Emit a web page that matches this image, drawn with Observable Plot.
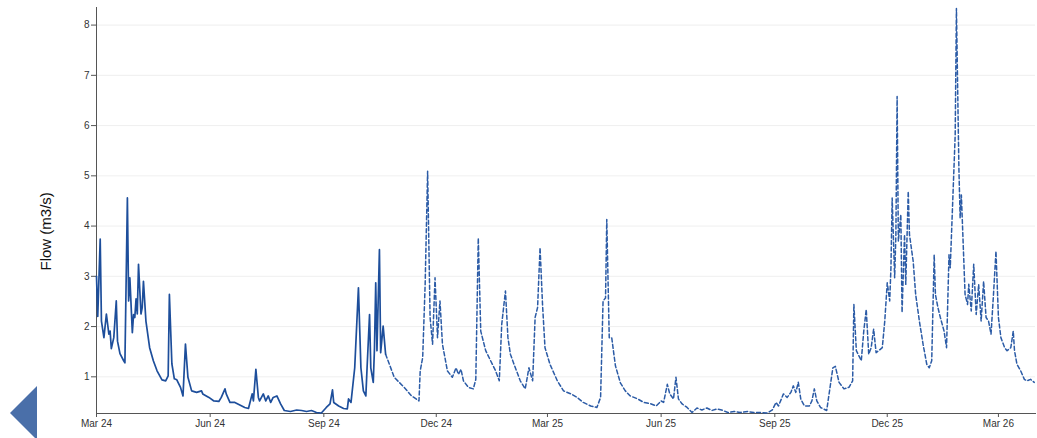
<!DOCTYPE html>
<html>
<head>
<meta charset="utf-8">
<script src="https://cdn.jsdelivr.net/npm/d3@7"></script>
<script src="https://cdn.jsdelivr.net/npm/@observablehq/plot@0.6"></script>
<style>
  html, body { margin: 0; padding: 0; background: #fff; }
  #wrap { position: relative; width: 1037px; height: 438px; overflow: hidden; }
  #nav { position: absolute; left: 0; top: 0; }
</style>
</head>
<body>
<div id="wrap"></div>
<script>
// ---- Observed flow (solid) ----
const obsDates = ["2024-03-01","2024-03-02","2024-03-04","2024-03-05","2024-03-07","2024-03-09","2024-03-11","2024-03-12","2024-03-13","2024-03-15","2024-03-17","2024-03-18","2024-03-20","2024-03-23","2024-03-24","2024-03-26","2024-03-27","2024-03-28","2024-03-30","2024-03-31","2024-04-01","2024-04-02","2024-04-03","2024-04-04","2024-04-06","2024-04-07","2024-04-08","2024-04-10","2024-04-13","2024-04-16","2024-04-19","2024-04-23","2024-04-26","2024-04-28","2024-04-29","2024-05-01","2024-05-03","2024-05-05","2024-05-08","2024-05-10","2024-05-12","2024-05-14","2024-05-17","2024-05-21","2024-05-25","2024-05-26","2024-05-31","2024-06-04","2024-06-08","2024-06-10","2024-06-13","2024-06-14","2024-06-17","2024-06-21","2024-06-25","2024-06-29","2024-07-02","2024-07-05","2024-07-06","2024-07-08","2024-07-10","2024-07-11","2024-07-14","2024-07-16","2024-07-18","2024-07-20","2024-07-22","2024-07-25","2024-07-28","2024-07-31","2024-08-05","2024-08-10","2024-08-14","2024-08-18","2024-08-22","2024-08-26","2024-08-30","2024-09-03","2024-09-06","2024-09-08","2024-09-09","2024-09-13","2024-09-17","2024-09-20","2024-09-21","2024-09-23","2024-09-26","2024-09-29","2024-10-01","2024-10-03","2024-10-05","2024-10-06","2024-10-08","2024-10-09","2024-10-11","2024-10-12","2024-10-13","2024-10-14","2024-10-16","2024-10-17","2024-10-19","2024-10-21"];
const obsFlow = [3.00,2.20,3.74,2.11,1.78,2.25,1.85,1.91,1.56,1.78,2.51,1.71,1.46,1.32,1.28,4.56,2.51,2.97,1.88,2.24,2.18,2.55,2.25,3.24,2.25,2.38,2.90,2.11,1.58,1.32,1.12,0.94,0.92,1.02,2.64,1.26,0.96,0.94,0.79,0.62,1.65,0.99,0.72,0.69,0.72,0.66,0.59,0.52,0.51,0.59,0.76,0.66,0.49,0.49,0.44,0.39,0.37,0.66,0.52,1.15,0.59,0.52,0.66,0.52,0.62,0.49,0.59,0.62,0.46,0.33,0.31,0.34,0.33,0.31,0.33,0.29,0.28,0.39,0.46,0.74,0.49,0.42,0.37,0.36,0.56,0.49,1.18,2.77,1.18,0.72,0.62,1.18,2.24,1.18,0.89,1.58,2.87,1.52,3.53,1.48,2.01,1.45];

// ---- Forecast flow (dashed) ----
const fcDates = ["2024-10-21","2024-10-28","2024-11-05","2024-11-11","2024-11-17","2024-11-18","2024-11-20","2024-11-22","2024-11-24","2024-11-26","2024-11-28","2024-11-30","2024-12-02","2024-12-04","2024-12-06","2024-12-10","2024-12-14","2024-12-17","2024-12-19","2024-12-21","2024-12-23","2024-12-27","2024-12-31","2025-01-02","2025-01-04","2025-01-06","2025-01-10","2025-01-14","2025-01-18","2025-01-21","2025-01-23","2025-01-26","2025-01-28","2025-01-30","2025-02-03","2025-02-07","2025-02-11","2025-02-14","2025-02-17","2025-02-19","2025-02-21","2025-02-23","2025-02-25","2025-02-27","2025-03-03","2025-03-09","2025-03-14","2025-03-20","2025-03-25","2025-03-30","2025-04-05","2025-04-10","2025-04-13","2025-04-15","2025-04-17","2025-04-18","2025-04-20","2025-04-22","2025-04-25","2025-04-29","2025-05-03","2025-05-07","2025-05-13","2025-05-18","2025-05-24","2025-05-28","2025-06-01","2025-06-03","2025-06-06","2025-06-08","2025-06-11","2025-06-13","2025-06-15","2025-06-18","2025-06-22","2025-06-26","2025-06-30","2025-07-04","2025-07-08","2025-07-12","2025-07-16","2025-07-20","2025-07-25","2025-07-30","2025-08-04","2025-08-10","2025-08-15","2025-08-21","2025-08-26","2025-08-30","2025-09-02","2025-09-04","2025-09-08","2025-09-11","2025-09-14","2025-09-16","2025-09-18","2025-09-20","2025-09-22","2025-09-25","2025-09-29","2025-10-01","2025-10-03","2025-10-05","2025-10-08","2025-10-13","2025-10-18","2025-10-20","2025-10-23","2025-10-27","2025-10-31","2025-11-03","2025-11-04","2025-11-06","2025-11-10","2025-11-12","2025-11-14","2025-11-16","2025-11-18","2025-11-20","2025-11-22","2025-11-24","2025-11-27","2025-11-29","2025-12-01","2025-12-03","2025-12-04","2025-12-05","2025-12-07","2025-12-08","2025-12-09","2025-12-10","2025-12-12","2025-12-13","2025-12-15","2025-12-16","2025-12-18","2025-12-19","2025-12-22","2025-12-24","2025-12-27","2025-12-30","2026-01-02","2026-01-04","2026-01-06","2026-01-08","2026-01-09","2026-01-11","2026-01-13","2026-01-16","2026-01-18","2026-01-20","2026-01-21","2026-01-23","2026-01-25","2026-01-26","2026-01-28","2026-01-29","2026-01-30","2026-02-01","2026-02-02","2026-02-04","2026-02-05","2026-02-07","2026-02-09","2026-02-11","2026-02-13","2026-02-15","2026-02-17","2026-02-19","2026-02-21","2026-02-23","2026-02-25","2026-02-27","2026-03-01","2026-03-03","2026-03-06","2026-03-08","2026-03-11","2026-03-13","2026-03-14","2026-03-16","2026-03-19","2026-03-22","2026-03-24","2026-03-27","2026-03-30"];
const fcFlow = [1.45,0.99,0.79,0.62,0.52,1.12,1.38,2.84,5.09,2.18,1.65,2.97,1.78,2.51,1.65,1.12,0.99,1.18,1.05,1.15,0.92,0.79,0.76,0.95,3.76,1.91,1.52,1.32,1.12,0.92,2.05,2.71,1.78,1.45,1.18,0.92,0.76,1.18,0.92,2.18,2.38,3.57,2.44,1.58,1.25,0.92,0.72,0.66,0.59,0.49,0.42,0.39,0.59,2.51,2.57,4.13,1.78,1.78,1.22,0.88,0.72,0.62,0.56,0.49,0.46,0.42,0.52,0.49,0.85,0.66,0.56,0.99,0.56,0.46,0.39,0.29,0.38,0.34,0.38,0.33,0.36,0.34,0.29,0.31,0.29,0.31,0.29,0.29,0.28,0.34,0.49,0.42,0.66,0.59,0.69,0.82,0.69,0.89,0.56,0.42,0.42,0.52,0.76,0.52,0.39,0.33,1.18,1.21,0.89,0.76,0.79,0.92,2.44,1.52,1.32,1.91,2.34,1.45,1.58,1.95,1.48,1.52,1.58,2.11,2.87,2.51,3.17,4.56,2.97,3.83,6.58,3.70,4.23,2.28,3.83,2.84,4.69,3.83,3.30,2.64,2.11,1.65,1.25,1.18,1.32,3.43,2.64,2.38,2.18,1.91,1.58,3.43,3.17,4.49,5.81,8.33,5.15,4.16,4.62,3.30,2.64,2.44,2.84,2.31,3.24,2.24,2.84,2.11,2.90,2.18,2.11,1.85,2.64,3.50,2.18,1.78,1.58,1.52,1.58,1.91,1.52,1.25,1.12,0.95,0.92,0.95,0.89];

// ---- Axis ticks ----
const xTickDates = ["2024-03-01","2024-06-01","2024-09-01","2024-12-01","2025-03-01","2025-06-01","2025-09-01","2025-12-01","2026-03-01"];
const yTicks = [1, 2, 3, 4, 5, 6, 7, 8];
const yLabel = "Flow (m3/s)";
const xDomain = ["2024-03-01", "2026-03-31"];
const yDomain = [0.27, 8.35];

const observed = obsDates.map((d, i) => ({date: new Date(d), flow: obsFlow[i]}));
const forecast = fcDates.map((d, i) => ({date: new Date(d), flow: fcFlow[i]}));
const fmt = d3.utcFormat("%b %y");

const chart = Plot.plot({
  width: 1037,
  height: 438,
  marginLeft: 96,
  marginRight: 2,
  marginTop: 7,
  marginBottom: 25,
  style: {fontFamily: "'Liberation Sans', Arial, sans-serif", background: "#fff", color: "#333"},
  x: {type: "utc", domain: xDomain.map(d => new Date(d))},
  y: {domain: yDomain},
  marks: [
    Plot.gridY(yTicks, {stroke: "#e4e4e4", strokeOpacity: 0.6}),
    Plot.frame({anchor: "left", stroke: "#555"}),
    Plot.frame({anchor: "bottom", stroke: "#555"}),
    Plot.axisY({ticks: yTicks, tickSize: 5, tickPadding: 2, fontSize: 10, label: null, stroke: "#555"}),
    Plot.axisX({ticks: xTickDates.map(d => new Date(d)), tickFormat: fmt, tickSize: 4, tickPadding: 2, fontSize: 10, label: null, stroke: "#555"}),
    Plot.text([yLabel], {frameAnchor: "top-left", text: d => d, rotate: -90, dx: -56, dy: 263, fontSize: 15, fill: "#111"}),
    Plot.line(forecast, {x: "date", y: "flow", stroke: "#2b5ba6", strokeWidth: 1.5, strokeDasharray: "4,2.5"}),
    Plot.line(observed, {x: "date", y: "flow", stroke: "#1d4e9b", strokeWidth: 1.7})
  ]
});
document.getElementById("wrap").appendChild(chart);

// navigation arrow (UI control, not data)
const ns = "http://www.w3.org/2000/svg";
const nav = document.createElementNS(ns, "svg");
nav.setAttribute("id", "nav");
nav.setAttribute("width", "40");
nav.setAttribute("height", "438");
const tri = document.createElementNS(ns, "path");
tri.setAttribute("d", "M10,413 L37,386 L37,440 Z");
tri.setAttribute("fill", "#4a6fa9");
nav.appendChild(tri);
document.getElementById("wrap").appendChild(nav);
</script>
</body>
</html>
